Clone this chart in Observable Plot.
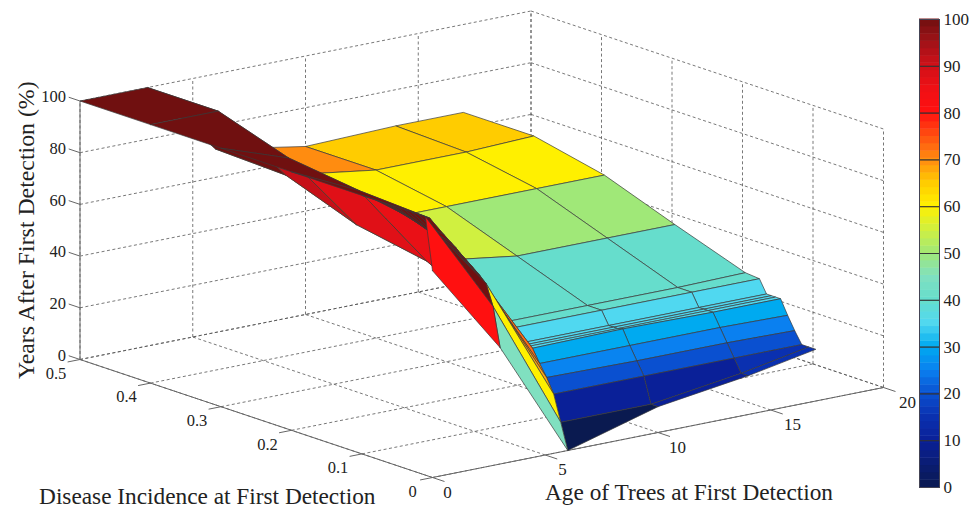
<!DOCTYPE html>
<html>
<head>
<meta charset="utf-8">
<style>
html,body{margin:0;padding:0;background:#fff;}
#chart{display:flex;width:969px;height:508px;overflow:hidden;}
svg{display:block;}
</style>
<script src="https://cdn.jsdelivr.net/npm/d3@7"></script>
<script src="https://cdn.jsdelivr.net/npm/@observablehq/plot@0.6"></script>
</head>
<body>
<div id="chart"></div>
<script>
// --- data ---
const ages = [0, 3, 6, 10, 14, 17];
const incidences = [0, 0.01, 0.02, 0.03, 0.04, 0.05, 0.057, 0.063, 0.07, 0.08, 0.1, 0.2, 0.3, 0.4, 0.5];
const yearsAge0  = [80, 100, 100, 100, 100, 100, 100, 100, 100, 100, 100, 100, 100, 100, 100];
const yearsAge3  = [45, 60, 68, 70.6, 72.8, 75, 76.5, 78, 79.4, 81.5, 86, 87.5, 91, 100, 100];
const yearsAge6  = [0, 10, 20, 25.5, 30, 35, 35, 35, 35, 40, 40, 55, 60, 70, 71];
const yearsAge10 = [10, 10, 20, 25, 30, 35.5, 35, 35, 35, 40, 40, 50, 60, 65, 65];
const yearsAge14 = [15, 15, 20, 25, 30, 35, 35, 35, 35, 40, 40, 50, 60, 65, 66];
const yearsAge17 = [20, 20, 20, 24.5, 29.5, 35, 35, 35, 35, 40, 40.5, 50, 60, 66, 66];
const surface = [yearsAge0, yearsAge3, yearsAge6, yearsAge10, yearsAge14, yearsAge17];

const ageTicks = [0, 5, 10, 15, 20];
const incidenceTicks = [0, 0.1, 0.2, 0.3, 0.4, 0.5];
const yearTicks = [0, 20, 40, 60, 80, 100];
const barTicks = [0, 10, 20, 30, 40, 50, 60, 70, 80, 90, 100];

const colorStops = [0, 10, 15, 20, 25, 30, 35, 40, 45, 50, 55, 60, 65, 70, 75, 80, 85, 90, 95, 100];
const colorRange = ["#0a1a50", "#0a2098", "#0a30b0", "#0a50d0", "#0a80f0", "#00aaf0", "#50d8f0", "#66ddcc",
  "#80e0c0", "#a0e878", "#d0f040", "#fff000", "#ffcc00", "#ff8c10", "#ff5010", "#ff1010", "#f01015", "#d01018", "#a01218", "#701010"];

// --- orthographic view of the 3-D box ---
const view = {x0: 432, y0: 477, xa: 22.55, ya: -4.5, xi: -705, yi: -236, yz: -2.585};
const px = (a, i) => view.x0 + view.xa * a + view.xi * i;
const py = (a, i, z) => view.y0 + view.ya * a + view.yi * i + view.yz * z;

// --- surface facets, painted from the far corner to the near one ---
const facets = [];
let id = 0;
for (let ka = ages.length - 2; ka >= 0; ka--) {
  for (let ki = incidences.length - 2; ki >= 0; ki--) {
    const value = surface[ka][ki];
    const corners = [[ka, ki], [ka + 1, ki], [ka + 1, ki + 1], [ka, ki + 1], [ka, ki]];
    for (const [p, q] of corners) {
      facets.push({
        cell: id, value,
        x: px(ages[p], incidences[q]),
        y: py(ages[p], incidences[q], surface[p][q])
      });
    }
    id++;
  }
}

// --- grid and axis segments ---
const seg = (a1, i1, z1, a2, i2, z2) => ({x1: px(a1, i1), y1: py(a1, i1, z1), x2: px(a2, i2), y2: py(a2, i2, z2)});
const grid = [];
for (const a of ageTicks) {
  grid.push(seg(a, 0, 0, a, 0.5, 0));       // floor
  grid.push(seg(a, 0.5, 0, a, 0.5, 100));   // back wall
}
for (const i of incidenceTicks) {
  grid.push(seg(0, i, 0, 20, i, 0));        // floor
  grid.push(seg(20, i, 0, 20, i, 100));     // side wall
}
for (const z of yearTicks) {
  grid.push(seg(0, 0.5, z, 20, 0.5, z));
  grid.push(seg(20, 0.5, z, 20, 0, z));
}
const axes = [seg(0, 0, 0, 20, 0, 0), seg(0, 0, 0, 0, 0.5, 0), seg(0, 0.5, 0, 0, 0.5, 100)];
const ticks = [
  ...ageTicks.map(a => seg(a, 0, 0, a, -0.017, 0)),
  ...incidenceTicks.map(i => seg(0, i, 0, -0.55, i, 0)),
  ...yearTicks.map(z => seg(0, 0.5, z, 0, 0.516, z))
];

const serif = "'Liberation Serif','Times New Roman',serif";
const ink = "#222";

const main = Plot.plot({
  width: 917, height: 508,
  margin: 0,
  x: {type: "identity"},
  y: {type: "identity"},
  color: {type: "linear", domain: colorStops, range: colorRange, interpolate: "rgb"},
  style: {background: "#fff", fontFamily: serif},
  marks: [
    Plot.link(grid, {x1: "x1", y1: "y1", x2: "x2", y2: "y2", stroke: "#555", strokeWidth: 0.8, strokeDasharray: "3,2.5"}),
    Plot.link(axes, {x1: "x1", y1: "y1", x2: "x2", y2: "y2", stroke: "#666", strokeWidth: 1}),
    Plot.link(ticks, {x1: "x1", y1: "y1", x2: "x2", y2: "y2", stroke: "#666", strokeWidth: 1}),
    Plot.line(facets, {x: "x", y: "y", z: "cell", fill: "value", stroke: "#3a3a3a", strokeWidth: 0.7, strokeLinejoin: "round", curve: "linear"}),
    Plot.text(yearTicks, {x: () => px(0, 0.5), y: z => py(0, 0.5, z), text: String, textAnchor: "end", dx: -14, dy: -4, fontSize: 16.5, fill: ink}),
    Plot.text(incidenceTicks, {x: i => px(0, i) + (i ? 0 : 4), y: i => py(0, i, 0), text: String, dx: -24, dy: 14, fontSize: 16.5, fill: ink}),
    Plot.text(ageTicks, {x: a => px(a, 0) + 15 + 0.45 * a, y: a => py(a, 0, 0), text: String, dy: 15, fontSize: 17, fill: ink}),
    Plot.text(["Age of Trees at First Detection"], {x: () => px(10, 0), y: () => py(10, 0, 0), dx: 31, dy: 60, fontSize: 23.3, fill: ink}),
    Plot.text(["Disease Incidence at First Detection"], {x: () => px(0, 0.25), y: () => py(0, 0.25, 0), dx: -49, dy: 78, fontSize: 23.3, fill: ink}),
    Plot.text(["Years After First Detection (%)"], {x: () => px(0, 0.5), y: () => py(0, 0.5, 50), dx: -54, rotate: -90, fontSize: 23.8, fill: ink})
  ]
});

// --- colour bar ---
const barLevels = d3.range(64).map(k => k * 100 / 64);
const bar = Plot.plot({
  width: 52, height: 508,
  marginLeft: 2, marginRight: 30, marginTop: 19, marginBottom: 21,
  x: {domain: [0, 1], axis: null},
  y: {domain: [0, 100], axis: "right", ticks: barTicks, tickSize: 0, tickPadding: 4, label: null},
  color: {type: "linear", domain: colorStops, range: colorRange, interpolate: "rgb"},
  style: {background: "#fff", fontFamily: serif, fontSize: "17px", color: ink},
  marks: [
    Plot.rect(barLevels, {x1: 0, x2: 1, y1: d => d, y2: d => d + 100 / 64 + 0.1, fill: d => d + 50 / 64}),
    Plot.tickY(barTicks, {x1: 0, x2: 0.07, y: d => d, stroke: "#333", strokeWidth: 0.8}),
    Plot.tickY(barTicks, {x1: 0.93, x2: 1, y: d => d, stroke: "#333", strokeWidth: 0.8}),
    Plot.frame({stroke: "#445"})
  ]
});

const host = document.getElementById("chart");
host.append(main, bar);
</script>
</body>
</html>
